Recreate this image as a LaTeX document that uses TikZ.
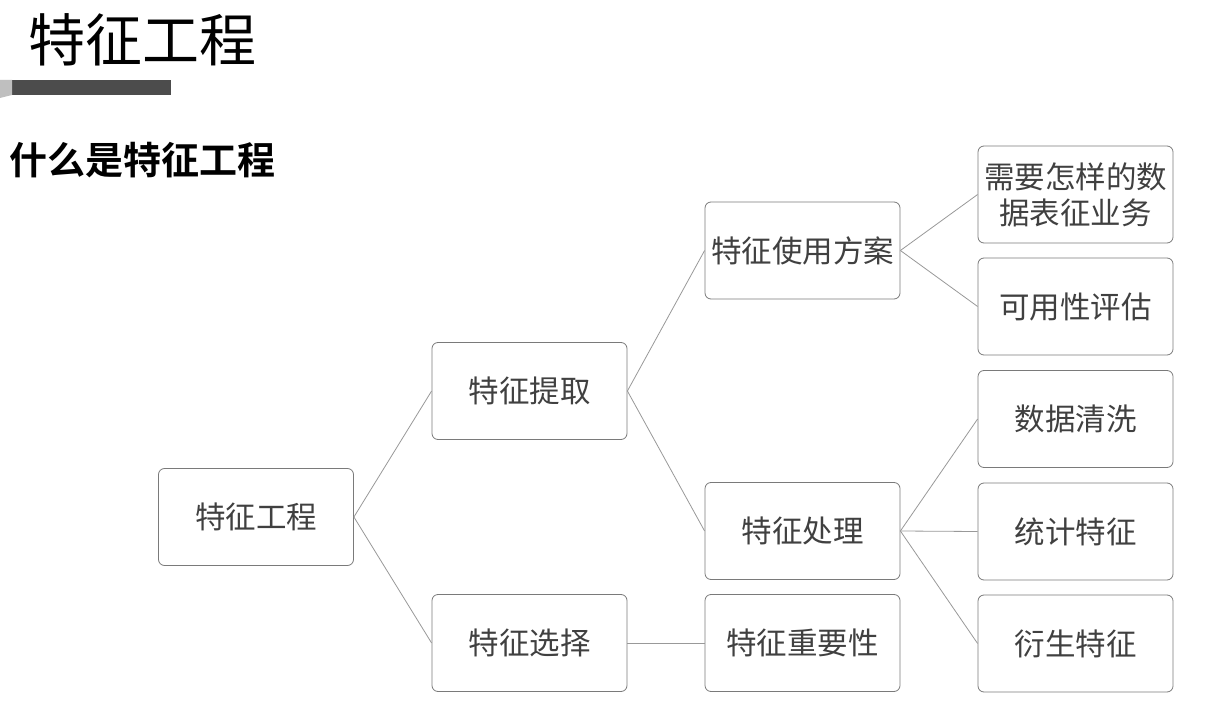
\documentclass[tikz,border=0pt]{standalone}
\usepackage{fontspec}
\newfontfamily\cjk{Noto Sans CJK SC}
\newfontfamily\cjkb{Noto Sans CJK SC Bold}
\begin{document}
\begin{tikzpicture}[x=1pt,y=-1pt,
  box/.style={draw=gray!70!black!80, line width=0.8pt, rounded corners=6pt, minimum width=195pt, minimum height=97pt, align=center, font=\cjk\fontsize{30.5}{36}\selectfont, text=black!75, inner sep=0pt},
  conn/.style={draw=gray!80, line width=0.8pt}]
\useasboundingbox (0,0) rectangle (1221,722);
\fill[white] (0,0) rectangle (1221,722);
\node[anchor=west, font=\cjk\fontsize{57}{62}\selectfont, inner sep=0pt] (title) at (28,40) {特征工程};
\fill[black!70] (12,80) rectangle (171,95);
\fill[gray!50] (0,80) -- (12,80) -- (12,95) -- (0,98) -- cycle;
\node[anchor=west, font=\cjkb\fontsize{38}{44}\selectfont, inner sep=0pt] (sub) at (9,160) {什么是特征工程};
\node[box] (a) at (256,517) {特征工程};
\node[box] (b1) at (529.5,391) {特征提取};
\node[box] (b2) at (529.5,643) {特征选择};
\node[box] (c1) at (802.5,250.5) {特征使用方案};
\node[box] (c2) at (802.5,531) {特征处理};
\node[box] (c3) at (802.5,643) {特征重要性};
\node[box] (d1) at (1075.5,194.5) {需要怎样的数\\据表征业务};
\node[box] (d2) at (1075.5,306.5) {可用性评估};
\node[box] (d3) at (1075.5,419) {数据清洗};
\node[box] (d4) at (1075.5,531.5) {统计特征};
\node[box] (d5) at (1075.5,643.5) {衍生特征};
\foreach \p/\c in {a/b1,a/b2,b1/c1,b1/c2,b2/c3,c1/d1,c1/d2,c2/d3,c2/d4,c2/d5}
  \draw[conn] (\p.east) -- (\c.west);
\end{tikzpicture}
\end{document}
